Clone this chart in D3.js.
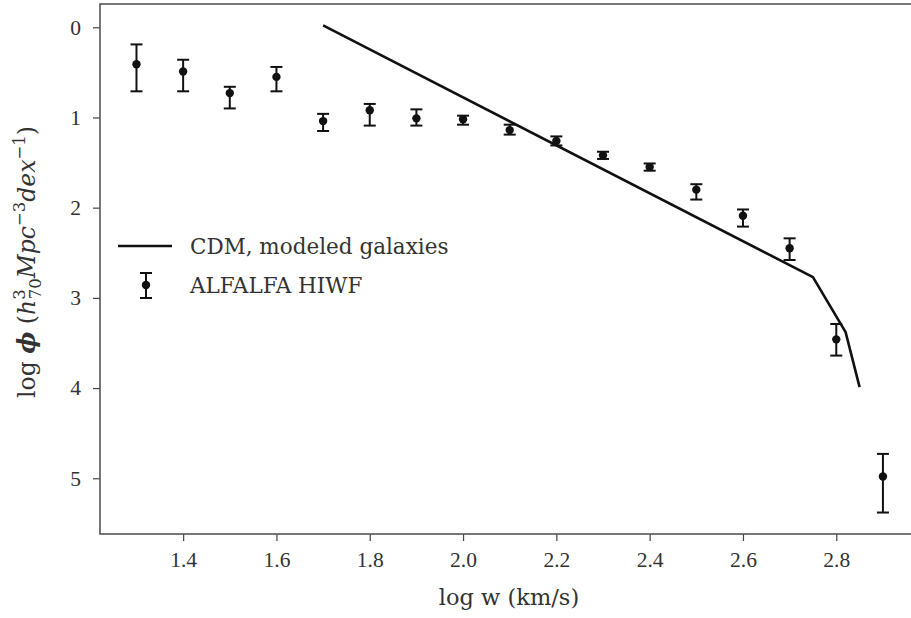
<!DOCTYPE html>
<html>
<head>
<meta charset="utf-8">
<script src="https://cdn.jsdelivr.net/npm/d3@7"></script>
<style>
  html, body { margin: 0; padding: 0; background: #fff; }
  svg text { font-family: "DejaVu Serif", "Liberation Serif", serif; fill: #333; }
</style>
</head>
<body>
<svg id="chart" width="911" height="618"></svg>
<script>
// ALFALFA HI width function: log w bins, log phi and asymmetric errors
const logW = [1.3, 1.4, 1.5, 1.6, 1.7, 1.8, 1.9, 2.0, 2.1, 2.2, 2.3, 2.4, 2.5, 2.6, 2.7, 2.8, 2.9];
const logPhi = [0.41, 0.49, 0.73, 0.55, 1.04, 0.92, 1.01, 1.02, 1.14, 1.26, 1.42, 1.55, 1.80, 2.09, 2.45, 3.46, 4.98];
const errLow = [0.22, 0.13, 0.07, 0.11, 0.08, 0.07, 0.10, 0.04, 0.06, 0.05, 0.04, 0.04, 0.06, 0.07, 0.11, 0.17, 0.25];
const errHigh = [0.30, 0.22, 0.17, 0.16, 0.11, 0.17, 0.08, 0.06, 0.05, 0.05, 0.04, 0.04, 0.11, 0.12, 0.13, 0.18, 0.40];

// CDM prediction for modeled galaxies
const cdmLogW = [1.7, 2.75, 2.82, 2.85];
const cdmLogPhi = [-0.02, 2.77, 3.38, 3.99];

const xTicks = [1.4, 1.6, 1.8, 2.0, 2.2, 2.4, 2.6, 2.8];
const yTicks = [0, 1, 2, 3, 4, 5];

const svg = d3.select("#chart");
const plot = { left: 100, right: 914, top: 4, bottom: 534 };

const x = d3.scaleLinear().domain([1.2218, 2.9666]).range([plot.left, plot.right]);
const y = d3.scaleLinear().domain([-0.258, 5.618]).range([plot.top, plot.bottom]);

const ink = "#111";
const tickFont = "'Liberation Serif', serif";

// axes
const xAxis = svg.append("g")
  .attr("transform", `translate(0,${plot.bottom})`)
  .call(d3.axisBottom(x).tickValues(xTicks).tickFormat(d3.format(".1f")).tickSizeOuter(0).tickSize(7).tickPadding(11));
const yAxis = svg.append("g")
  .attr("transform", `translate(${plot.left},0)`)
  .call(d3.axisLeft(y).tickValues(yTicks).tickFormat(d3.format("d")).tickSizeOuter(0).tickSize(7).tickPadding(12));
[xAxis, yAxis].forEach(g => {
  g.select(".domain").remove();
  g.selectAll(".tick line").attr("stroke", "#444").attr("stroke-width", 1.2);
  g.selectAll(".tick text").attr("font-size", 21.5).attr("fill", "#333")
    .style("font-family", tickFont);
});

// frame
svg.append("rect")
  .attr("x", plot.left).attr("y", plot.top)
  .attr("width", plot.right - plot.left).attr("height", plot.bottom - plot.top)
  .attr("fill", "none").attr("stroke", "#555").attr("stroke-width", 1.6);

// CDM line
svg.append("path")
  .datum(cdmLogW.map((w, i) => [w, cdmLogPhi[i]]))
  .attr("fill", "none").attr("stroke", ink).attr("stroke-width", 2.6)
  .attr("stroke-linejoin", "round")
  .attr("d", d3.line().x(d => x(d[0])).y(d => y(d[1])));

// error bars
const pts = logW.map((w, i) => ({ w, phi: logPhi[i], lo: logPhi[i] - errLow[i], hi: logPhi[i] + errHigh[i] }));
const capHalf = 6;
const eb = svg.append("g").attr("stroke", ink).attr("stroke-width", 2);
eb.selectAll("line.v").data(pts).join("line")
  .attr("x1", d => x(d.w)).attr("x2", d => x(d.w))
  .attr("y1", d => y(d.lo)).attr("y2", d => y(d.hi));
eb.selectAll("line.t").data(pts).join("line")
  .attr("x1", d => x(d.w) - capHalf).attr("x2", d => x(d.w) + capHalf)
  .attr("y1", d => y(d.lo)).attr("y2", d => y(d.lo));
eb.selectAll("line.b").data(pts).join("line")
  .attr("x1", d => x(d.w) - capHalf).attr("x2", d => x(d.w) + capHalf)
  .attr("y1", d => y(d.hi)).attr("y2", d => y(d.hi));
svg.append("g").selectAll("circle").data(pts).join("circle")
  .attr("cx", d => x(d.w)).attr("cy", d => y(d.phi)).attr("r", 4.2).attr("fill", ink);

// legend
const lg = svg.append("g");
lg.append("line").attr("x1", 118).attr("x2", 172).attr("y1", 246).attr("y2", 246)
  .attr("stroke", ink).attr("stroke-width", 2.6);
lg.append("text").attr("x", 190).attr("y", 254).attr("font-size", 21.5).text("CDM, modeled galaxies");
lg.append("line").attr("x1", 146).attr("x2", 146).attr("y1", 273).attr("y2", 298).attr("stroke", ink).attr("stroke-width", 2);
lg.append("line").attr("x1", 140).attr("x2", 152).attr("y1", 273).attr("y2", 273).attr("stroke", ink).attr("stroke-width", 2);
lg.append("line").attr("x1", 140).attr("x2", 152).attr("y1", 298).attr("y2", 298).attr("stroke", ink).attr("stroke-width", 2);
lg.append("circle").attr("cx", 146).attr("cy", 285).attr("r", 4.2).attr("fill", ink);
lg.append("text").attr("x", 190).attr("y", 293).attr("font-size", 21.5).text("ALFALFA HIWF");

// axis titles
svg.append("text").attr("x", 509).attr("y", 605)
  .attr("text-anchor", "middle").attr("font-size", 22.5).text("log w (km/s)");

const yl = svg.append("text")
  .attr("transform", "translate(35,262) rotate(-90)")
  .attr("text-anchor", "middle").attr("font-size", 23.5);
yl.append("tspan").text("log ");
yl.append("tspan").attr("font-style", "italic").attr("font-weight", "bold").text("ϕ");
yl.append("tspan").text(" (");
yl.append("tspan").attr("font-style", "italic").text("h");
yl.append("tspan").attr("font-size", 16.5).attr("dy", -10).text("3");
yl.append("tspan").attr("font-size", 16.5).attr("dx", -10).attr("dy", 16).text("70");
yl.append("tspan").attr("font-style", "italic").attr("dy", -6).text("Mpc");
yl.append("tspan").attr("font-size", 16.5).attr("dy", -10).text("−3");
yl.append("tspan").attr("font-style", "italic").attr("dy", 10).text("dex");
yl.append("tspan").attr("font-size", 16.5).attr("dy", -10).text("−1");
yl.append("tspan").attr("dy", 10).text(")");
</script>
</body>
</html>
